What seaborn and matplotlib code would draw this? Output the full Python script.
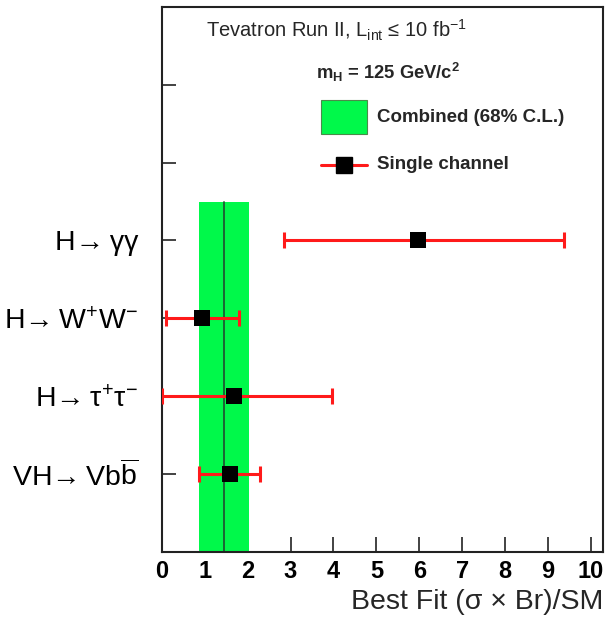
import matplotlib
matplotlib.use("Agg")
import matplotlib.pyplot as plt
from matplotlib.lines import Line2D
from matplotlib.patches import Rectangle
import seaborn as sns
import pandas as pd

# Signal-strength fits per Higgs decay channel (m_H = 125 GeV)
channels = ["VH→\u2009Vb$\\overline{\\mathrm{b}}$",
            "H→\u2009τ$^{+}$τ$^{-}$",
            "H→\u2009W$^{+}$W$^{-}$",
            "H→\u2009γγ"]
best_fit = [1.59, 1.68, 0.94, 5.97]
err_low = [0.72, 1.68, 0.83, 3.12]
err_high = [0.69, 2.28, 0.85, 3.39]

# Combined result with its 68% C.L. interval
combined = 1.44
combined_low = 0.88
combined_high = 2.03

row_pos = [1, 2, 3, 4]
y_ticks = [1, 2, 3, 4, 5, 6]
x_ticks = list(range(0, 11))

sns.set_theme(style="ticks")
plt.rcParams["font.family"] = ["Liberation Sans", "DejaVu Sans"]
plt.rcParams["mathtext.fontset"] = "custom"
plt.rcParams["mathtext.rm"] = "Liberation Sans"
plt.rcParams["mathtext.it"] = "Liberation Sans"
plt.rcParams["mathtext.bf"] = "Liberation Sans:bold"

df = pd.DataFrame({"fit": best_fit, "row": row_pos,
                   "lo": err_low, "hi": err_high})

fig = plt.figure(figsize=(6.16, 6.34), dpi=100)
ax = fig.add_axes([0.2625, 0.1298, 0.7165, 0.8592])

green = "#00f94a"
red = "#ff1a1a"

# combined band and central value
band_top = 4.5
ax.fill_betweenx([0, band_top], combined_low, combined_high,
                 color=green, lw=0, zorder=1)
ax.plot([combined, combined], [0, band_top], color="#1f5a33", lw=1.3, zorder=2)

# single-channel error bars and points
ax.errorbar(df["fit"], df["row"], xerr=[df["lo"], df["hi"]], fmt="none",
            ecolor=red, elinewidth=2.2, capsize=6, capthick=2.2, zorder=3)
sns.scatterplot(data=df, x="fit", y="row", marker="s", s=135, color="black",
                edgecolor="black", linewidth=0, ax=ax, zorder=4, legend=False)

ax.set_xlim(0, 10.28)
ax.set_ylim(0, 7)
ax.set_xticks(x_ticks)
ax.set_xticklabels([str(t) for t in x_ticks], fontsize=17, fontweight="bold")
ax.set_yticks(y_ticks)
ax.set_yticklabels(channels + ["", ""], fontsize=20.5)
ax.tick_params(axis="x", direction="in", length=11, width=1.2, pad=6, colors="#222222",
               labelcolor="black")
ax.tick_params(axis="y", direction="in", length=10, width=1.2, pad=17, colors="#222222",
               labelcolor="black")
for s in ax.spines.values():
    s.set_linewidth(1.5)
    s.set_color("#222222")

ax.set_xlabel("Best Fit (σ × Br)/SM", fontsize=20.5, loc="right", labelpad=4)
ax.set_ylabel("")

ax.text(0.10, 0.957, "Tevatron Run II, L$_{\\mathrm{int}}$ ≤ 10 fb$^{-1}$",
        transform=ax.transAxes, fontsize=14.5, va="center", ha="left")
ax.text(0.35, 0.88, r"$\mathbf{m_{H}}$ = 125 GeV/c$^{\mathbf{2}}$",
        transform=ax.transAxes, fontsize=13.2, fontweight="bold", va="center", ha="left")

# legend keys drawn in axes coordinates
ax.add_patch(Rectangle((0.361, 0.767), 0.104, 0.0624, transform=ax.transAxes,
                       facecolor=green, edgecolor="#4a8a4a", lw=0.8, zorder=5))
ax.text(0.488, 0.798, "Combined (68% C.L.)", transform=ax.transAxes,
        fontsize=13.5, fontweight="bold", va="center", ha="left")
ax.add_line(Line2D([0.361, 0.465], [0.71, 0.71], transform=ax.transAxes,
                   color=red, lw=2.2, zorder=5))
ax.add_line(Line2D([0.413], [0.71], transform=ax.transAxes, marker="s", ms=11,
                   mfc="black", mec="black", lw=0, zorder=6))
ax.text(0.488, 0.71, "Single channel", transform=ax.transAxes,
        fontsize=13.5, fontweight="bold", va="center", ha="left")

fig.savefig("out.png", dpi=100)
